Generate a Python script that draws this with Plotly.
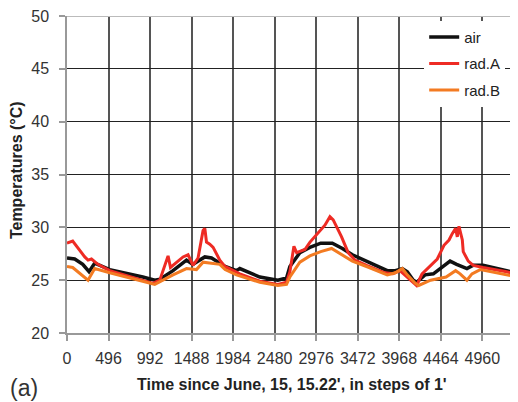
import plotly.graph_objects as go

# ---- data ----
air_t = [0, 92, 188, 263, 331, 510, 905, 1050, 1111, 1266, 1427, 1502, 1646, 1726, 1888, 2024, 2064,
         2303, 2518, 2622, 2662, 2781, 2900, 3030, 3169, 3289, 3408, 3608, 3825, 3921, 4005, 4064,
         4136, 4175, 4276, 4375, 4493, 4575, 4653, 4776, 4848, 4968, 5250, 5386]
air_v = [27.1, 27.0, 26.5, 25.8, 26.6, 26.0, 25.3, 25.0, 25.1, 25.9, 26.9, 26.5, 27.2, 27.1, 26.3, 25.9, 26.1,
         25.3, 25.0, 25.2, 26.3, 27.6, 28.1, 28.5, 28.5, 28.0, 27.4, 26.7, 25.9, 25.9, 26.1, 25.8,
         25.0, 24.8, 25.5, 25.6, 26.3, 26.8, 26.5, 26.1, 26.4, 26.4, 25.9, 25.6]

radA_t = [0, 68, 212, 251, 292, 331, 370, 510, 905, 1028, 1108, 1168, 1207, 1236, 1307, 1386, 1446, 1505,
          1565, 1625, 1646, 1666, 1705, 1745, 1825, 1885, 2064, 2303, 2518, 2622, 2662, 2710, 2742, 2781,
          2841, 2902, 2980, 3080, 3140, 3179, 3279, 3358, 3438, 3578, 3797, 3892, 3976, 4036, 4131, 4175,
          4240, 4342, 4422, 4502, 4562, 4601, 4641, 4661, 4681, 4721, 4732, 4792, 4852, 4968, 5250, 5386]
radA_v = [28.5, 28.7, 27.2, 26.9, 27.0, 26.7, 26.5, 25.9, 25.0, 24.7, 25.0, 26.4, 27.3, 26.2, 26.7, 27.2, 27.4, 26.4,
          27.1, 29.7, 29.9, 28.6, 28.4, 28.1, 26.9, 26.3, 25.6, 24.9, 24.6, 24.8, 25.8, 28.2, 27.6, 27.7,
          27.9, 28.6, 29.3, 30.2, 31.0, 30.7, 29.1, 27.6, 26.9, 26.4, 25.7, 25.6, 25.9, 25.5, 24.8, 24.5,
          25.6, 26.4, 27.0, 28.3, 28.8, 29.4, 29.9, 29.1, 30.1, 28.8, 27.7, 26.8, 26.4, 26.2, 25.8, 25.5]

radB_t = [0, 68, 251, 331, 510, 905, 1048, 1266, 1427, 1546, 1625, 1825, 1888, 2024, 2303, 2518, 2622, 2662,
          2742, 2781, 2900, 3030, 3160, 3289, 3408, 3608, 3825, 3921, 4005, 4064, 4160, 4200, 4342, 4527,
          4641, 4695, 4776, 4836, 4935, 5386]
radB_v = [26.3, 26.2, 25.0, 26.1, 25.7, 24.9, 24.6, 25.5, 26.1, 26.0, 26.7, 26.5, 26.0, 25.5, 24.8, 24.5, 24.6, 25.3,
          26.3, 26.7, 27.3, 27.7, 28.0, 27.4, 26.8, 26.2, 25.5, 25.7, 26.1, 25.5, 24.7, 24.5, 25.0, 25.3,
          25.9, 25.6, 25.0, 25.6, 26.0, 25.3]

x_ticks = [0, 496, 992, 1488, 1984, 2480, 2976, 3472, 3968, 4464, 4960]
y_ticks = [20, 25, 30, 35, 40, 45, 50]

FONT = "Liberation Sans, Arial, sans-serif"

fig = go.Figure()
fig.add_trace(go.Scatter(x=air_t, y=air_v, name="air", mode="lines", legendgroup="g1",
                         line=dict(color="#111111", width=3.5)))
fig.add_trace(go.Scatter(x=radA_t, y=radA_v, name="rad.A", mode="lines", legendgroup="g2",
                         line=dict(color="#ee2b24", width=3)))
fig.add_trace(go.Scatter(x=radB_t, y=radB_v, name="rad.B", mode="lines", legendgroup="g3",
                         line=dict(color="#f37b22", width=3)))

# page body has an 8px margin, so the figure is 8px smaller and margins shifted
fig.update_layout(
    width=510, height=394,
    margin=dict(l=59, r=0, t=8, b=69),
    paper_bgcolor="white", plot_bgcolor="white",
    font=dict(family=FONT, color="#333333"),
    showlegend=True,
    legend=dict(x=0.792, y=0.985, xanchor="left", yanchor="top",
                bgcolor="white", borderwidth=0,
                font=dict(size=15, color="#222222"),
                itemwidth=30, tracegroupgap=4),
    xaxis=dict(range=[0, 5386], tickvals=x_ticks, ticktext=[str(v) for v in x_ticks],
               showgrid=True, gridcolor="#555555", gridwidth=1.5,
               showline=True, linecolor="#999999", linewidth=1.5,
               ticks="outside", ticklen=6, tickcolor="#999999", tickwidth=1.5,
               zeroline=False, tickfont=dict(size=16, color="#333333"),
               ticklabelstandoff=4, ticklabeloverflow="allow", automargin=False),
    yaxis=dict(range=[20, 50], tickvals=y_ticks,
               showgrid=True, gridcolor="#222222", gridwidth=1.3,
               showline=True, linecolor="#999999", linewidth=1.5,
               ticks="outside", ticklen=6, tickcolor="#999999", tickwidth=1.5,
               zeroline=False, tickfont=dict(size=16, color="#333333"),
               ticklabelstandoff=7, ticklabeloverflow="allow", automargin=False),
)

# lighter top border line at 50
fig.add_shape(type="line", xref="paper", yref="y", x0=0, x1=1, y0=50, y1=50,
              line=dict(color="#bbbbbb", width=2), layer="above")

fig.add_annotation(text="Time since June, 15, 15.22', in steps of 1'",
                   xref="paper", yref="paper", x=0.499, y=-0.164, xanchor="center", yanchor="middle",
                   showarrow=False, font=dict(family=FONT, size=16, color="#222222", weight="bold"))
fig.add_annotation(text="Temperatures (°C)", textangle=-90,
                   xref="paper", yref="paper", x=-0.113, y=0.514, xanchor="center", yanchor="middle",
                   showarrow=False, font=dict(family=FONT, size=16, color="#222222", weight="bold"))
fig.add_annotation(text="(a)", xref="paper", yref="paper", x=-0.131, y=-0.173,
                   xanchor="left", yanchor="middle", showarrow=False,
                   font=dict(family=FONT, size=23, color="#333333"))

fig.write_html("out.html")
